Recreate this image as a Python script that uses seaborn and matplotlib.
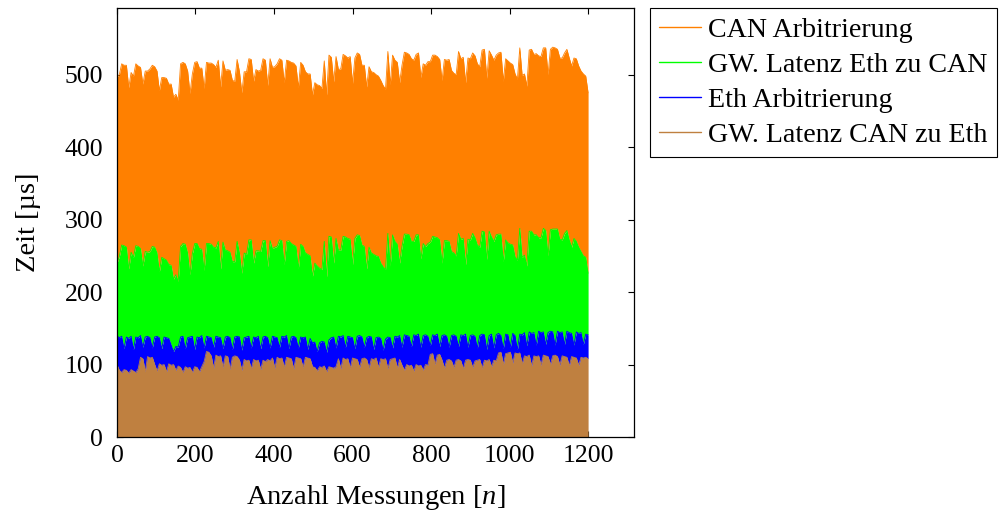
import numpy as np
import pandas as pd
import matplotlib
matplotlib.use("Agg")
import matplotlib.pyplot as plt
import seaborn as sns

# Measurement index (x)
messung = list(range(0, 1201, 6))

# Layer values in microseconds (stacked bottom -> top)
gw_can_eth = [100,92,89,93,92,88,93,91,89,94, 110,108,90,111,109,110,100,91,101,99,
              100,90,101,99,100,92,98,96,89,97, 95,96,89,97,96,90,97,104,118,117,
              112,95,113,111,112,96,112,111,93,110, 112,111,106,92,107,105,106,94,107,105,
              106,93,106,104,107,105,109,95,110,108, 109,96,110,109,108,94,110,109,108,96,
              110,109,108,97,96,91,97,96,98,90, 97,96,95,97,108,94,109,107,108,95,
              109,108,107,96,108,109,107,95,108,107, 109,96,108,107,108,94,107,108,109,95,
              107,99,92,100,98,99,91,100,98,99, 92,100,99,114,115,100,113,114,106,95,
              106,107,105,96,106,107,105,94,106,107, 106,96,105,106,107,95,106,105,107,97,
              106,105,116,117,100,115,116,117,102,116, 115,116,101,112,111,113,98,112,111,112,
              99,113,112,111,100,112,113,111,99,112, 111,110,98,111,110,109,99,110,109,110,
              108]

eth_arb = [40,45,50,29,46,48,46,30,49,43, 30,16,48,28,28,13,38,48,36,23,
           38,47,35,28,18,33,26,42,50,25, 42,42,50,24,42,47,43,19,21,21,
           25,29,26,27,25,26,26,28,44,11, 26,28,32,28,30,33,33,29,31,32,
           33,29,32,35,30,18,30,43,27,16, 30,42,30,13,30,45,27,14,30,41,
           28,12,28,33,35,27,33,36,33,27, 37,41,43,26,31,44,31,17,31,43,
           28,14,32,44,30,15,30,44,30,14, 28,42,28,13,27,44,30,15,30,43,
           33,25,49,40,41,26,50,40,44,25, 48,41,40,12,26,40,29,11,34,46,
           33,17,35,45,33,18,36,46,36,17, 34,45,34,17,33,47,35,16,33,45,
           17,36,27,23,22,27,25,7,41,24, 6,26,40,32,15,32,45,32,16,34,
           45,32,16,33,46,33,14,35,45,33, 17,36,46,32,17,36,44,34,19,32,
           33]

gw_eth_can = [100,112,126,142,124,96,116,127,126,126, 120,112,118,116,119,140,124,115,91,126,
              108,107,102,110,100,99,91,125,128,144, 117,86,114,146,129,123,119,107,128,129,
              129,138,122,132,95,147,120,118,118,121, 104,131,116,106,117,114,133,149,102,120,
              118,134,133,132,98,148,121,124,126,148, 132,100,130,149,129,126,126,109,128,126,
              116,131,114,92,109,118,103,99,139,104, 143,139,102,151,119,120,137,152,135,135,
              101,152,140,138,127,139,95,123,116,131, 113,111,104,115,96,143,99,156,131,128,
              100,139,139,140,140,145,129,139,137,122, 127,122,128,143,136,136,133,147,100,130,
              132,146,116,113,111,156,132,134,96,149, 132,140,136,142,122,142,142,124,144,134,
              147,138,137,140,120,130,127,142,122,109, 123,146,107,107,110,139,141,135,152,129,
              131,143,157,106,140,142,160,141,129,127, 153,139,128,119,147,125,119,112,122,106,
              85]

can_arb = [257,251,250,249,251,250,248,250,251,249, 250,251,249,250,252,250,249,251,250,248,
           250,251,249,250,251,249,250,252,250,249, 251,250,248,250,251,249,250,251,250,249,
           250,252,249,250,251,250,248,250,251,250, 249,251,250,249,250,252,250,249,251,250,
           248,250,251,249,250,251,250,249,252,250, 249,251,250,248,250,251,249,250,251,250,
           250,249,251,250,249,250,252,250,249,251, 250,248,250,251,249,250,251,250,249,252,
           250,249,251,250,248,250,251,249,250,251, 250,249,252,250,249,251,250,248,250,251,
           249,250,251,250,249,252,250,249,251,250, 248,250,251,249,250,251,250,249,252,250,
           249,251,250,248,250,251,249,250,251,250, 250,249,251,250,249,250,252,250,249,251,
           250,248,250,251,249,250,251,250,249,252, 250,249,251,250,248,250,251,249,250,251,
           250,249,252,250,249,251,250,248,250,251, 249,250,251,250,249,252,250,249,251,250,
           249]

legend_order = ["CAN Arbitrierung", "GW. Latenz Eth zu CAN", "Eth Arbitrierung", "GW. Latenz CAN zu Eth"]
stack_order = ["GW. Latenz CAN zu Eth", "Eth Arbitrierung", "GW. Latenz Eth zu CAN", "CAN Arbitrierung"]
palette = {"CAN Arbitrierung": "#FF8000", "GW. Latenz Eth zu CAN": "#00FF00",
           "Eth Arbitrierung": "#0000FF", "GW. Latenz CAN zu Eth": "#BF8040"}

df = pd.DataFrame({"n": messung,
                   "GW. Latenz CAN zu Eth": gw_can_eth,
                   "Eth Arbitrierung": eth_arb,
                   "GW. Latenz Eth zu CAN": gw_eth_can,
                   "CAN Arbitrierung": can_arb})
tops = df[stack_order].cumsum(axis=1)

sns.set_style("ticks")
plt.rcParams["font.family"] = ["Liberation Serif", "DejaVu Serif"]
plt.rcParams["mathtext.fontset"] = "custom"
plt.rcParams["mathtext.rm"] = "Liberation Serif"
plt.rcParams["mathtext.it"] = "Liberation Serif:italic"
plt.rcParams["text.color"] = "black"
plt.rcParams["axes.labelcolor"] = "black"
plt.rcParams["xtick.color"] = "black"
plt.rcParams["ytick.color"] = "black"

fig = plt.figure(figsize=(10.04, 5.17), dpi=100)
ax = fig.add_axes([0.1165, 0.1547, 0.515, 0.8298])

prev = np.zeros(len(df))
handles = {}
for name in stack_order:
    top = tops[name].to_numpy()
    ax.fill_between(df["n"], prev, top, color=palette[name], linewidth=0, zorder=1)
    sns.lineplot(x=df["n"], y=top, color=palette[name], linewidth=0.6, ax=ax,
                 estimator=None, sort=False, zorder=2)
    handles[name] = ax.lines[-1]
    prev = top

ax.set_xlim(0, 1317)
ax.set_ylim(0, 592)
ax.set_xticks(range(0, 1201, 200))
ax.set_yticks(range(0, 501, 100))
ax.tick_params(direction="in", length=4, width=0.8, top=True, right=True,
               labelsize=18.5, colors="black")
ax.tick_params(axis="x", pad=6)
ax.tick_params(axis="y", pad=10)
for s in ax.spines.values():
    s.set_color("black")
    s.set_linewidth(0.9)

ax.set_xlabel("Anzahl Messungen $[n]$", fontsize=20.5, labelpad=11, color="black")
ax.set_ylabel("Zeit [µs]", fontsize=20.5, labelpad=17, color="black")

leg = ax.legend([handles[k] for k in legend_order], legend_order,
                loc="upper left", bbox_to_anchor=(1.03, 1.0), borderaxespad=0,
                frameon=True, fancybox=False, edgecolor="black", framealpha=1,
                fontsize=20.2, handlelength=1.5, handletextpad=0.28,
                labelspacing=0.34, borderpad=0.32, labelcolor="black")
leg.get_frame().set_linewidth(0.8)
for h in leg.legend_handles:
    h.set_linewidth(1.0)

fig.savefig("out.png", dpi=100)
